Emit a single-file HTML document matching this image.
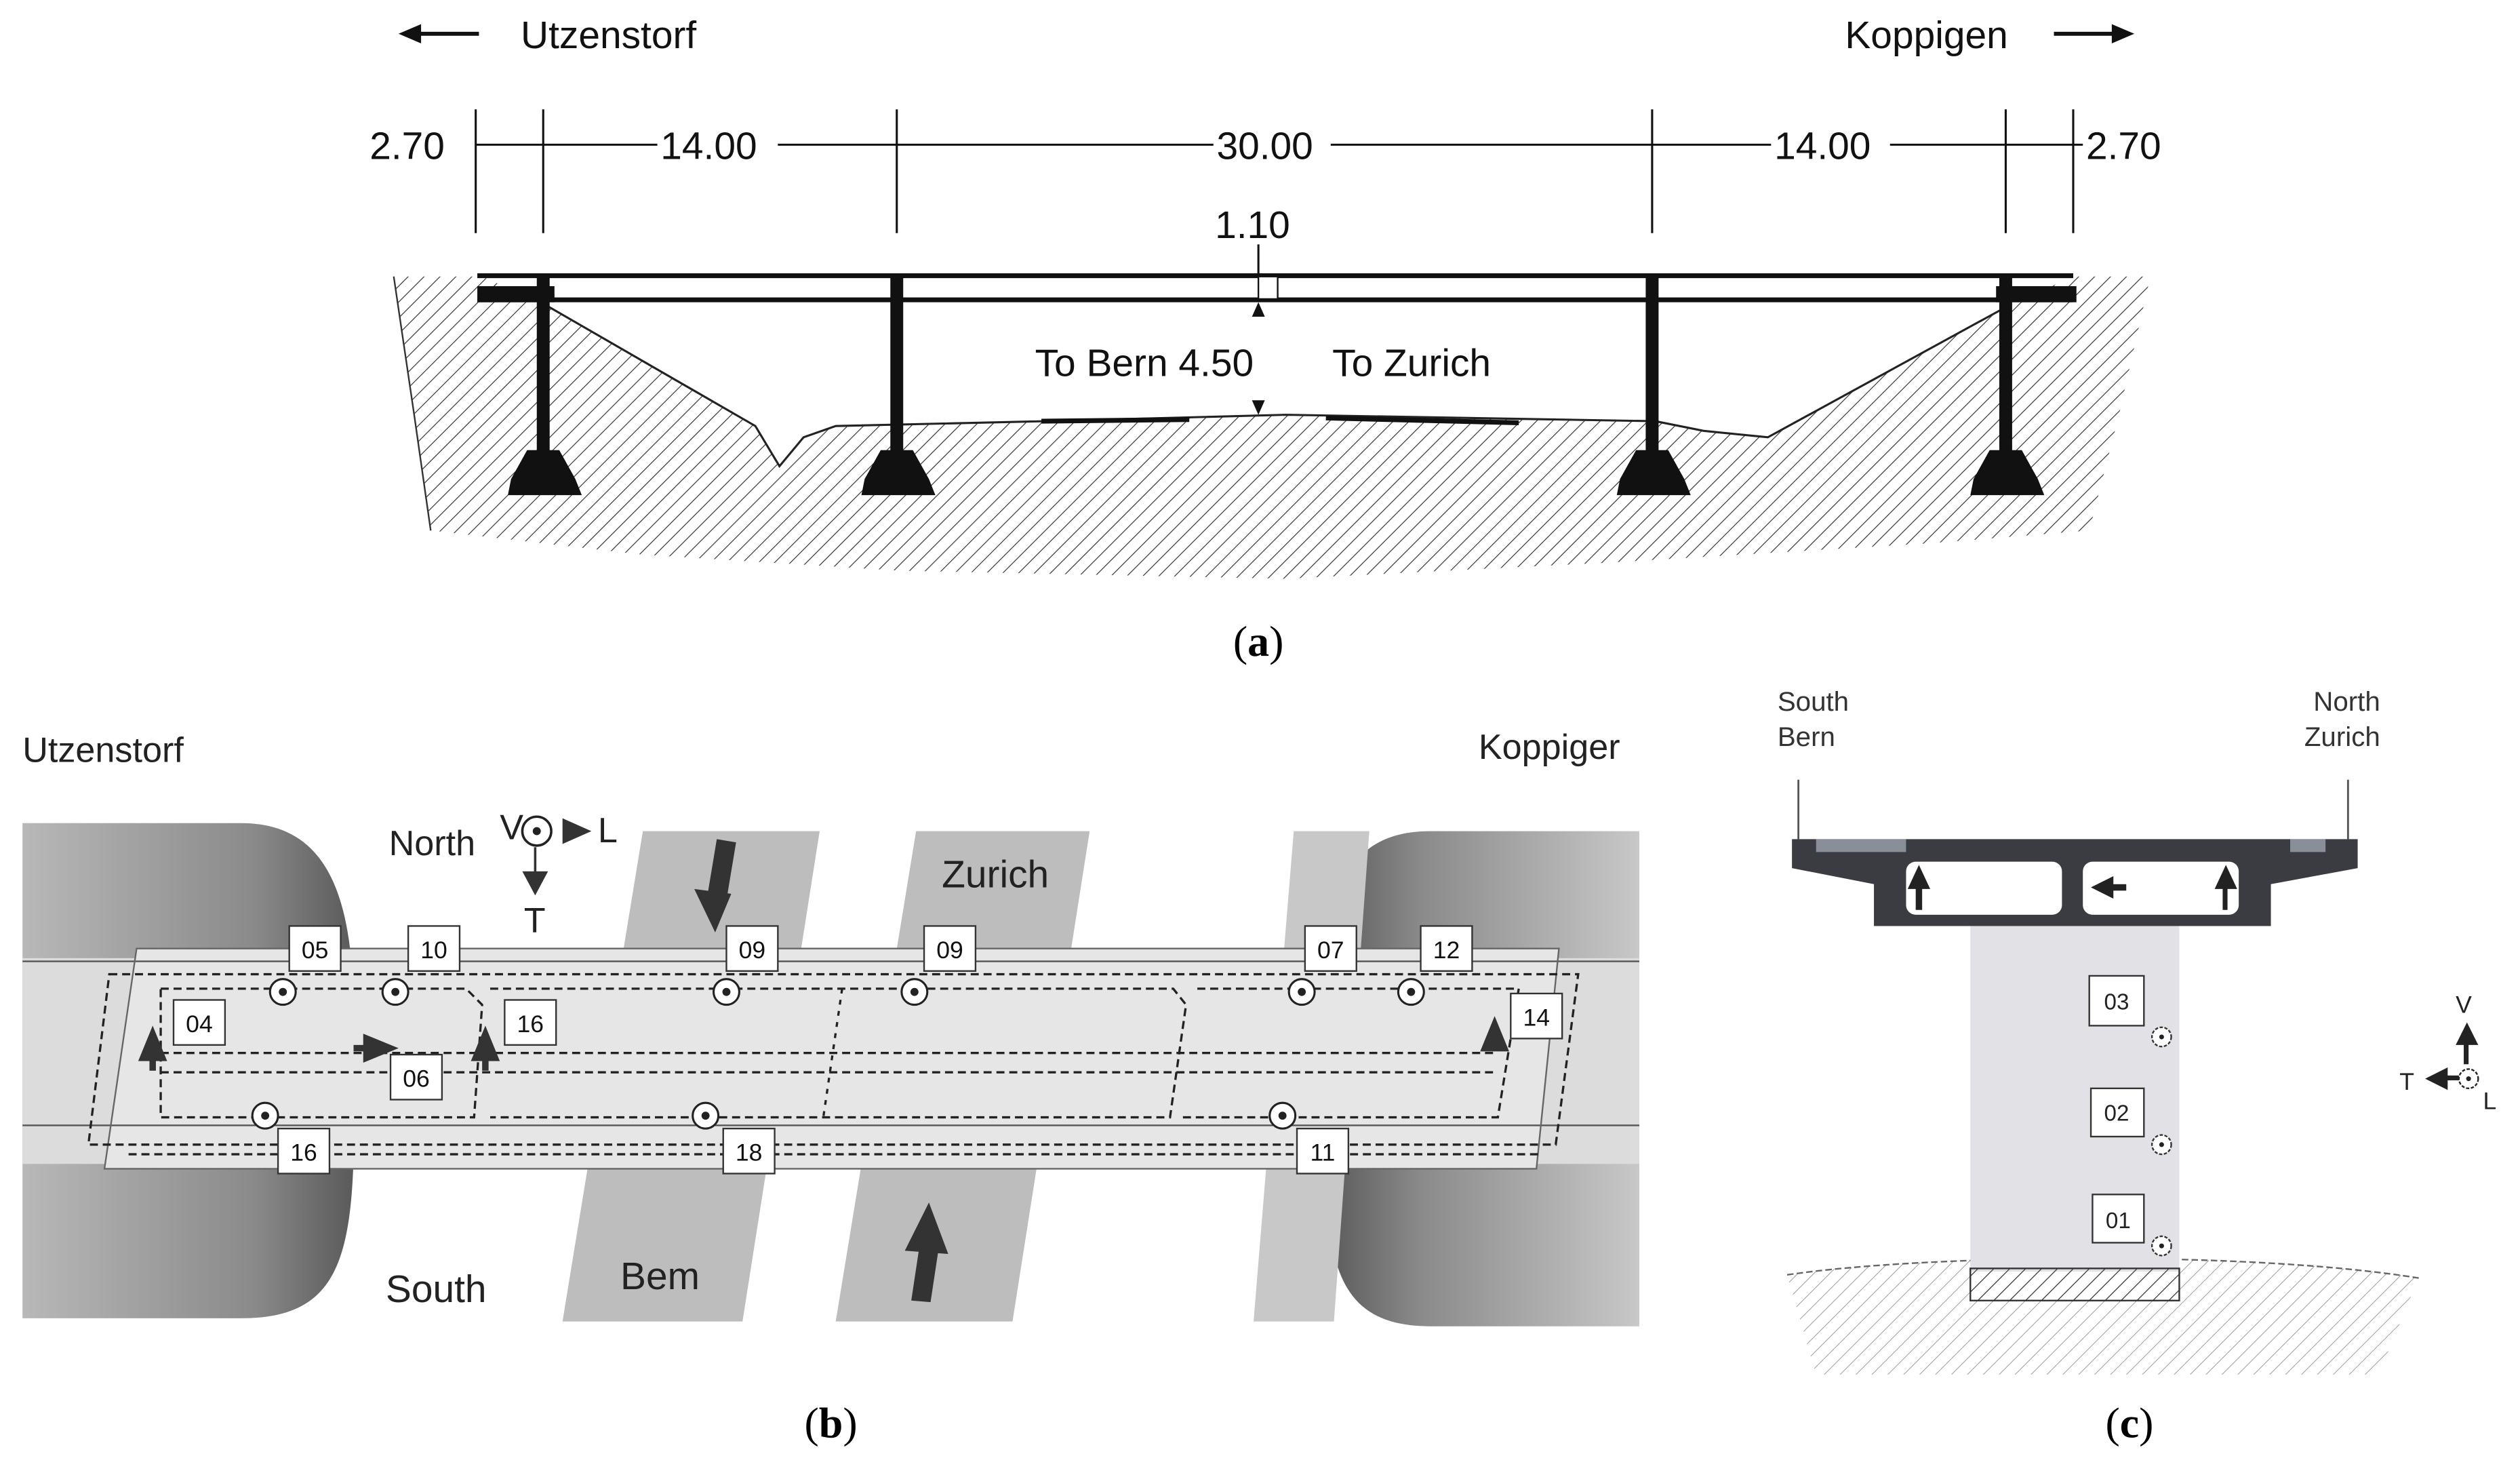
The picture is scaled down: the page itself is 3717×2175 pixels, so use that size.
<!DOCTYPE html>
<html><head><style>html,body{margin:0;padding:0;background:#fff}svg{display:block}</style></head><body>
<svg width="3717" height="2175" viewBox="0 0 1568 917.5" xmlns="http://www.w3.org/2000/svg" font-family="Liberation Sans, sans-serif">
<defs>
<pattern id="h" width="7" height="7" patternUnits="userSpaceOnUse" patternTransform="rotate(45)"><line x1="0" y1="0" x2="0" y2="7" stroke="#333" stroke-width="1"/></pattern>
<pattern id="h2" width="7" height="7" patternUnits="userSpaceOnUse" patternTransform="rotate(45)"><line x1="0" y1="0" x2="0" y2="7" stroke="#999" stroke-width="0.8"/></pattern>
<linearGradient id="ga" x1="0" x2="1"><stop offset="0" stop-color="#b8b8b8"/><stop offset="0.7" stop-color="#8a8a8a"/><stop offset="1" stop-color="#5a5a5a"/></linearGradient>
<linearGradient id="gb" x1="0" x2="1"><stop offset="0" stop-color="#5a5a5a"/><stop offset="0.3" stop-color="#8a8a8a"/><stop offset="1" stop-color="#c8c8c8"/></linearGradient>
</defs>
<!-- PANEL A -->
<g font-size="24" fill="#111">
<text x="324" y="30">Utzenstorf</text><text x="1148" y="30">Koppigen</text>
<line x1="252" y1="21" x2="298" y2="21" stroke="#111" stroke-width="2.5"/><polygon points="248,21 262,15 262,27" fill="#111"/>
<line x1="1278" y1="21" x2="1322" y2="21" stroke="#111" stroke-width="2.5"/><polygon points="1328,21 1314,15 1314,27" fill="#111"/>
<text x="230" y="99">2.70</text><text x="411" y="99">14.00</text><text x="757" y="99">30.00</text><text x="1104" y="99">14.00</text><text x="1298" y="99">2.70</text><text x="756" y="148">1.10</text>
</g>
<g stroke="#111" stroke-width="1.3">
<line x1="296" y1="68" x2="296" y2="145"/><line x1="338" y1="68" x2="338" y2="145"/><line x1="558" y1="68" x2="558" y2="145"/><line x1="1028" y1="68" x2="1028" y2="145"/><line x1="1248" y1="68" x2="1248" y2="145"/><line x1="1290" y1="68" x2="1290" y2="145"/>
<line x1="296" y1="90" x2="338" y2="90"/><line x1="338" y1="90" x2="409" y2="90"/><line x1="484" y1="90" x2="558" y2="90"/><line x1="558" y1="90" x2="755" y2="90"/><line x1="828" y1="90" x2="1028" y2="90"/><line x1="1028" y1="90" x2="1102" y2="90"/><line x1="1176" y1="90" x2="1248" y2="90"/><line x1="1248" y1="90" x2="1296" y2="90"/>
<line x1="783" y1="152" x2="783" y2="258"/>
</g>
<polygon points="245,172 1338,172 1318,260 1300,330 1200,338 1000,350 800,360 560,355 400,345 268,330 258,260" fill="url(#h)"/>
<polygon points="300,172 1290,172 1250,190 1100,272 1060,268 1030,262 800,258 650,262 520,265 500,272 485,290 470,265 340,190" fill="#fff"/>
<polyline points="245,172 258,260 268,330" fill="none" stroke="#333" stroke-width="1"/>
<polyline points="340,190 470,265 485,290 500,272 520,265 650,262 800,258 1030,262 1060,268 1100,272 1250,190" fill="none" stroke="#222" stroke-width="1.3"/>
<line x1="648" y1="262" x2="740" y2="261" stroke="#111" stroke-width="3"/><line x1="825" y1="260" x2="945" y2="263" stroke="#111" stroke-width="3"/>
<g fill="#111">
<rect x="297" y="170" width="993" height="3"/><rect x="297" y="185" width="993" height="3"/>
<rect x="297" y="178" width="48" height="10"/><rect x="1242" y="178" width="50" height="10"/>
<rect x="783" y="172" width="12" height="14" fill="#fff" stroke="#111"/>
<rect x="334" y="172" width="8" height="110"/><rect x="554" y="172" width="8" height="110"/><rect x="1024" y="172" width="8" height="110"/><rect x="1244" y="172" width="8" height="110"/>
<polygon points="328,280 348,280 358,298 362,308 316,308 318,298"/><polygon points="548,280 568,280 578,298 582,308 536,308 538,298"/><polygon points="1018,280 1038,280 1048,298 1052,308 1006,308 1008,298"/><polygon points="1238,280 1258,280 1268,298 1272,308 1226,308 1228,298"/>
</g>
<polygon points="783,188 779,197 787,197" fill="#111"/><polygon points="783,258 779,249 787,249" fill="#111"/>
<text x="644" y="234" font-size="24" fill="#111">To Bern 4.50</text><text x="829" y="234" font-size="24" fill="#111">To Zurich</text>
<text x="783" y="408" font-size="27" font-family="Liberation Serif, serif" text-anchor="middle">(<tspan font-weight="bold">a</tspan>)</text>
<!-- PANEL B -->
<text x="14" y="474" font-size="22" fill="#222">Utzenstorf</text><text x="920" y="472" font-size="22" fill="#222">Koppiger</text>
<path d="M14,512 H150 C205,512 218,560 220,620 V720 C218,790 205,820 150,820 H14 Z" fill="url(#ga)"/>
<path d="M1020,517 H890 C835,517 825,560 825,620 V720 C825,790 835,825 890,825 H1020 Z" fill="url(#gb)"/>
<rect x="14" y="596" width="1006" height="128" fill="#dcdcdc"/>
<polygon points="400,517 510,517 462,822 350,822" fill="#bdbdbd"/>
<polygon points="570,517 678,517 630,822 520,822" fill="#bdbdbd"/>
<polygon points="805,517 852,517 830,822 780,822" fill="#c8c8c8"/>
<polygon points="85,590 970,590 956,727 65,727" fill="#e6e6e6"/>
<line x1="14" y1="598" x2="1020" y2="598" stroke="#555" stroke-width="1"/><line x1="14" y1="700" x2="1020" y2="700" stroke="#555" stroke-width="1"/>
<polygon points="85,590 970,590 956,727 65,727" fill="none" stroke="#666" stroke-width="1"/>
<g fill="none" stroke="#222" stroke-width="1.4" stroke-dasharray="5,3">
<polygon points="68,606 982,606 968,712 55,712"/>
<polyline points="100,615 290,615 300,625 295,695 100,695 100,615"/>
<line x1="100" y1="655" x2="930" y2="655"/><line x1="100" y1="667" x2="930" y2="667"/>
<polyline points="305,615 730,615 738,625 728,695 305,695"/><polyline points="745,615 945,615 932,695 735,695"/>
<line x1="80" y1="718" x2="960" y2="718"/>
<line x1="524" y1="615" x2="512" y2="697" stroke-dasharray="3,4"/>
</g>
<g fill="#333"><polygon points="95,638 86,660 104,660"/><rect x="93" y="658" width="4" height="8"/>
<polygon points="302,638 293,660 311,660"/><rect x="300" y="658" width="4" height="8"/>
<polygon points="930,632 921,654 939,654"/>
<polygon points="248,652 226,643 226,661"/><rect x="220" y="650" width="8" height="4"/>
<polygon points="445,580 432,553 455,556"/><polygon points="446,522 458,524 452,560 440,558"/>
<polygon points="578,748 563,778 590,780"/><polygon points="572,776 584,777 579,810 567,809"/>
<polygon points="333,557 325,542 341,542"/><line x1="333" y1="527" x2="333" y2="545" stroke="#333" stroke-width="1.5"/><polygon points="368,517 350,509 350,525"/>
</g>
<circle cx="334" cy="517" r="9" fill="#fff" stroke="#222" stroke-width="1.5"/><circle cx="334" cy="517" r="2.5" fill="#222"/>
<text x="242" y="532" font-size="22" fill="#222">North</text><text x="311" y="522" font-size="22" fill="#222">V</text><text x="372" y="524" font-size="22" fill="#222">L</text><text x="326" y="580" font-size="22" fill="#222">T</text>
<text x="586" y="552" font-size="24" fill="#222">Zurich</text><text x="386" y="802" font-size="24" fill="#222">Bem</text><text x="240" y="810" font-size="24" fill="#222">South</text>
<g fill="#fff" stroke="#222" stroke-width="1.3">
<circle cx="176" cy="617" r="8"/><circle cx="246" cy="617" r="8"/><circle cx="452" cy="617" r="8"/><circle cx="569" cy="617" r="8"/><circle cx="810" cy="617" r="8"/><circle cx="878" cy="617" r="8"/>
<circle cx="165" cy="694" r="8"/><circle cx="439" cy="694" r="8"/><circle cx="798" cy="694" r="8"/>
</g>
<g fill="#222"><circle cx="176" cy="617" r="2.5"/><circle cx="246" cy="617" r="2.5"/><circle cx="452" cy="617" r="2.5"/><circle cx="569" cy="617" r="2.5"/><circle cx="810" cy="617" r="2.5"/><circle cx="878" cy="617" r="2.5"/><circle cx="165" cy="694" r="2.5"/><circle cx="439" cy="694" r="2.5"/><circle cx="798" cy="694" r="2.5"/></g>
<g fill="#fff" stroke="#333" stroke-width="1"><rect x="180" y="576" width="32" height="28"/><rect x="254" y="576" width="32" height="28"/><rect x="452" y="576" width="32" height="28"/><rect x="575" y="576" width="32" height="28"/><rect x="812" y="576" width="32" height="28"/><rect x="884" y="576" width="32" height="28"/>
<rect x="108" y="622" width="32" height="28"/><rect x="314" y="622" width="32" height="28"/><rect x="243" y="656" width="32" height="28"/><rect x="940" y="618" width="32" height="28"/>
<rect x="173" y="702" width="32" height="28"/><rect x="450" y="702" width="32" height="28"/><rect x="807" y="702" width="32" height="28"/></g>
<g font-size="15" fill="#111" text-anchor="middle">
<text x="196" y="596">05</text><text x="270" y="596">10</text><text x="468" y="596">09</text><text x="591" y="596">09</text><text x="828" y="596">07</text><text x="900" y="596">12</text>
<text x="124" y="642">04</text><text x="330" y="642">16</text><text x="259" y="676">06</text><text x="956" y="638">14</text>
<text x="189" y="722">16</text><text x="466" y="722">18</text><text x="823" y="722">11</text></g>
<text x="517" y="894" font-size="27" font-family="Liberation Serif, serif" text-anchor="middle">(<tspan font-weight="bold">b</tspan>)</text>
<!-- PANEL C -->
<text x="1106" y="442" font-size="17" fill="#333">South</text><text x="1106" y="464" font-size="17" fill="#333">Bern</text>
<text x="1481" y="442" font-size="17" fill="#333" text-anchor="end">North</text><text x="1481" y="464" font-size="17" fill="#333" text-anchor="end">Zurich</text>
<line x1="1119" y1="485" x2="1119" y2="522" stroke="#555" stroke-width="1.2"/><line x1="1461" y1="485" x2="1461" y2="522" stroke="#555" stroke-width="1.2"/>
<path d="M1112,793 C1200,780 1400,778 1505,795 L1480,855 L1130,855 Z" fill="url(#h2)"/>
<path d="M1112,793 C1200,780 1400,778 1505,795" fill="none" stroke="#666" stroke-dasharray="4,2"/>
<rect x="1226" y="575" width="130" height="216" fill="#e2e2e6"/>
<path d="M1115,522 H1467 V540 L1413,550 V576 H1166 V550 L1115,540 Z" fill="#3a3c42"/>
<rect x="1130" y="522" width="56" height="8" fill="#8a8e98"/><rect x="1425" y="522" width="22" height="8" fill="#8a8e98"/>
<rect x="1186" y="536" width="97" height="33" rx="6" fill="#fff"/><rect x="1296" y="536" width="97" height="33" rx="6" fill="#fff"/>
<g fill="#222"><polygon points="1194,538 1187,553 1201,553"/><rect x="1192" y="552" width="4" height="14"/>
<polygon points="1385,538 1378,553 1392,553"/><rect x="1383" y="552" width="3" height="14"/>
<polygon points="1301,552 1315,545 1315,559"/><rect x="1313" y="550" width="10" height="4"/>
<polygon points="1535,636 1528,650 1542,650"/><rect x="1533" y="648" width="3" height="14"/>
<polygon points="1509,671 1523,664 1523,678"/><rect x="1520" y="669" width="10" height="3"/></g>
<text x="1528" y="630" font-size="15" fill="#222">V</text><text x="1493" y="678" font-size="15" fill="#222">T</text><text x="1545" y="690" font-size="15" fill="#222">L</text>
<circle cx="1536" cy="671" r="6" fill="#fff" stroke="#222" stroke-dasharray="2,1"/><circle cx="1536" cy="671" r="1.5" fill="#222"/>
<rect x="1226" y="789" width="130" height="20" fill="url(#h)" stroke="#333" stroke-width="1"/>
<g fill="#fff" stroke="#333"><rect x="1300" y="607" width="34" height="31"/><rect x="1301" y="677" width="33" height="30"/><rect x="1302" y="743" width="32" height="30"/></g>
<g font-size="14" fill="#222" text-anchor="middle"><text x="1317" y="628">03</text><text x="1317" y="697">02</text><text x="1318" y="764">01</text></g>
<g fill="#fff" stroke="#333" stroke-dasharray="2,1"><circle cx="1345" cy="645" r="6"/><circle cx="1345" cy="712" r="6"/><circle cx="1345" cy="775" r="6"/></g>
<g fill="#222"><circle cx="1345" cy="645" r="1.5"/><circle cx="1345" cy="712" r="1.5"/><circle cx="1345" cy="775" r="1.5"/></g>
<text x="1325" y="894" font-size="27" font-family="Liberation Serif, serif" text-anchor="middle">(<tspan font-weight="bold">c</tspan>)</text>
</svg>
</body></html>
